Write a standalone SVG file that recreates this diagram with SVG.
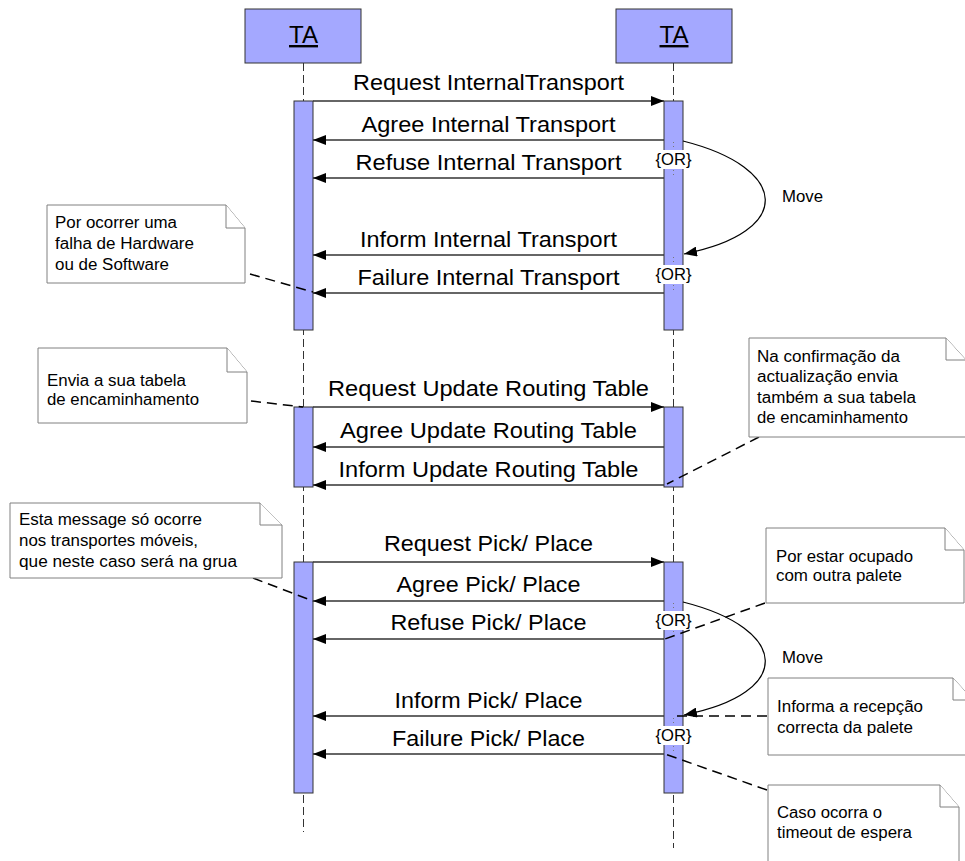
<svg xmlns="http://www.w3.org/2000/svg" width="965" height="861" viewBox="0 0 965 861">
  <style>
    .head { fill: #a4a8ff; stroke: #333; stroke-width: 1; }
    .act { fill: #a4a8ff; stroke: #333; stroke-width: 1; }
    .life { stroke: #333; stroke-width: 1; stroke-dasharray: 8 4; fill: none; }
    .msg { stroke: #333; stroke-width: 1.4; fill: none; }
    .msgtxt { font-family: "Liberation Sans", Arial, sans-serif; font-size: 22px; fill: #000; text-anchor: middle; }
    .headtxt { font-family: "Liberation Sans", Arial, sans-serif; font-size: 24px; fill: #000; text-anchor: middle; text-decoration: underline; }
    .ortxt { font-family: "Liberation Sans", Arial, sans-serif; font-size: 16px; fill: #000; text-anchor: middle; }
    .orbg { fill: #fff; stroke: none; }
    .dots { stroke: #777; stroke-width: 1; stroke-dasharray: 1 3; fill: none; }
    .move { stroke: #000; stroke-width: 1.2; fill: none; }
    .note { fill: #fff; stroke: #808080; stroke-width: 1; }
    .notetxt { font-family: "Liberation Sans", Arial, sans-serif; font-size: 16px; fill: #000; }
    .link { stroke: #000; stroke-width: 1.5; stroke-dasharray: 10 6; fill: none; }
  </style>
  <defs>
    <marker id="arrow" markerUnits="userSpaceOnUse" markerWidth="13" markerHeight="10" refX="13" refY="5" orient="auto">
      <path d="M0,0 L13,5 L0,10 Z" fill="#000"/>
    </marker>
  </defs>

  <rect width="965" height="861" fill="#fff"/>

  <!-- lifelines -->
  <g id="lifelines">
    <line class="life" x1="303.5" y1="63" x2="303.5" y2="832"/>
    <line class="life" x1="673.5" y1="63" x2="673.5" y2="848"/>
  </g>

  <!-- participants -->
  <g id="ta-left">
    <rect class="head" x="245" y="9" width="116" height="54"/>
    <text class="headtxt" x="303.5" y="43" textLength="29" lengthAdjust="spacingAndGlyphs">TA</text>
  </g>
  <g id="ta-right">
    <rect class="head" x="616" y="9" width="116" height="54"/>
    <text class="headtxt" x="674" y="43" textLength="29" lengthAdjust="spacingAndGlyphs">TA</text>
  </g>

  <!-- activation bars -->
  <g id="activations">
    <rect class="act" x="294" y="101" width="19" height="229"/>
    <rect class="act" x="664" y="101" width="19" height="229"/>
    <rect class="act" x="294" y="407" width="19" height="80"/>
    <rect class="act" x="664" y="407" width="19" height="80"/>
    <rect class="act" x="294" y="562" width="19" height="231"/>
    <rect class="act" x="664" y="562" width="19" height="231"/>
  </g>

  <!-- {OR} alternatives -->
  <g id="or-labels">
    <line class="dots" x1="673.5" y1="142" x2="673.5" y2="177"/>
    <rect class="orbg" x="655" y="150" width="37" height="19"/>
    <text class="ortxt" x="673.5" y="165" textLength="36" lengthAdjust="spacingAndGlyphs">{OR}</text>

    <line class="dots" x1="673.5" y1="257" x2="673.5" y2="292"/>
    <rect class="orbg" x="655" y="265" width="37" height="19"/>
    <text class="ortxt" x="673.5" y="280" textLength="36" lengthAdjust="spacingAndGlyphs">{OR}</text>

    <line class="dots" x1="673.5" y1="603" x2="673.5" y2="638"/>
    <rect class="orbg" x="655" y="611" width="37" height="19"/>
    <text class="ortxt" x="673.5" y="626" textLength="36" lengthAdjust="spacingAndGlyphs">{OR}</text>

    <line class="dots" x1="673.5" y1="718" x2="673.5" y2="753"/>
    <rect class="orbg" x="655" y="726" width="37" height="19"/>
    <text class="ortxt" x="673.5" y="741" textLength="36" lengthAdjust="spacingAndGlyphs">{OR}</text>
  </g>

  <!-- messages -->
  <g id="connectors">
    <line class="msg" x1="313" y1="101" x2="664" y2="101" marker-end="url(#arrow)"/>
    <text class="msgtxt" x="488.5" y="90" textLength="271" lengthAdjust="spacingAndGlyphs">Request InternalTransport</text>

    <line class="msg" x1="664" y1="140" x2="313" y2="140" marker-end="url(#arrow)"/>
    <text class="msgtxt" x="488.5" y="132" textLength="254" lengthAdjust="spacingAndGlyphs">Agree Internal Transport</text>

    <line class="msg" x1="664" y1="178" x2="313" y2="178" marker-end="url(#arrow)"/>
    <text class="msgtxt" x="488.5" y="170" textLength="266" lengthAdjust="spacingAndGlyphs">Refuse Internal Transport</text>

    <line class="msg" x1="664" y1="255" x2="313" y2="255" marker-end="url(#arrow)"/>
    <text class="msgtxt" x="488.5" y="247" textLength="257" lengthAdjust="spacingAndGlyphs">Inform Internal Transport</text>

    <line class="msg" x1="664" y1="293" x2="313" y2="293" marker-end="url(#arrow)"/>
    <text class="msgtxt" x="488.5" y="285" textLength="262" lengthAdjust="spacingAndGlyphs">Failure Internal Transport</text>

    <line class="msg" x1="313" y1="407" x2="664" y2="407" marker-end="url(#arrow)"/>
    <text class="msgtxt" x="488.5" y="396" textLength="321" lengthAdjust="spacingAndGlyphs">Request Update Routing Table</text>

    <line class="msg" x1="664" y1="447" x2="313" y2="447" marker-end="url(#arrow)"/>
    <text class="msgtxt" x="488.5" y="438" textLength="297" lengthAdjust="spacingAndGlyphs">Agree Update Routing Table</text>

    <line class="msg" x1="664" y1="485" x2="313" y2="485" marker-end="url(#arrow)"/>
    <text class="msgtxt" x="488.5" y="477" textLength="300" lengthAdjust="spacingAndGlyphs">Inform Update Routing Table</text>

    <line class="msg" x1="313" y1="562" x2="664" y2="562" marker-end="url(#arrow)"/>
    <text class="msgtxt" x="488.5" y="551" textLength="209" lengthAdjust="spacingAndGlyphs">Request Pick/ Place</text>

    <line class="msg" x1="664" y1="601" x2="313" y2="601" marker-end="url(#arrow)"/>
    <text class="msgtxt" x="488.5" y="592" textLength="184" lengthAdjust="spacingAndGlyphs">Agree Pick/ Place</text>

    <line class="msg" x1="664" y1="639" x2="313" y2="639" marker-end="url(#arrow)"/>
    <text class="msgtxt" x="488.5" y="630" textLength="196" lengthAdjust="spacingAndGlyphs">Refuse Pick/ Place</text>

    <line class="msg" x1="664" y1="716" x2="313" y2="716" marker-end="url(#arrow)"/>
    <text class="msgtxt" x="488.5" y="708" textLength="188" lengthAdjust="spacingAndGlyphs">Inform Pick/ Place</text>

    <line class="msg" x1="664" y1="754" x2="313" y2="754" marker-end="url(#arrow)"/>
    <text class="msgtxt" x="488.5" y="746" textLength="193" lengthAdjust="spacingAndGlyphs">Failure Pick/ Place</text>

    <!-- self transitions -->
    <path class="move" d="M683,141 C790,168 795,232 684,254" marker-end="url(#arrow)"/>
    <text class="ortxt" x="802.5" y="202" textLength="41" lengthAdjust="spacingAndGlyphs">Move</text>

    <path class="move" d="M683,602 C790,629 795,693 684,715" marker-end="url(#arrow)"/>
    <text class="ortxt" x="802.5" y="663" textLength="41" lengthAdjust="spacingAndGlyphs">Move</text>

    <!-- note anchors -->
    <line class="link" x1="250" y1="274" x2="313" y2="292"/>
    <line class="link" x1="251" y1="401" x2="303" y2="407"/>
    <line class="link" x1="759" y1="437" x2="667" y2="484"/>
    <line class="link" x1="253" y1="578" x2="313" y2="601"/>
    <line class="link" x1="765" y1="603" x2="665" y2="639"/>
    <line class="link" x1="767" y1="716" x2="673" y2="716"/>
    <line class="link" x1="767" y1="790" x2="665" y2="754"/>
  </g>

  <!-- notes -->
  <g id="note-falha">
    <path class="note" d="M47,205 H226 L245,228 V283 H47 Z"/>
    <path class="note" d="M226,205 V228 H245"/>
    <text class="notetxt" x="55" y="228" textLength="122" lengthAdjust="spacingAndGlyphs">Por ocorrer uma</text>
    <text class="notetxt" x="55" y="249" textLength="139" lengthAdjust="spacingAndGlyphs">falha de Hardware</text>
    <text class="notetxt" x="55" y="270" textLength="114" lengthAdjust="spacingAndGlyphs">ou de Software</text>
  </g>

  <g id="note-tabela">
    <path class="note" d="M38,348 H227 L247,372 V423 H38 Z"/>
    <path class="note" d="M227,348 V372 H247"/>
    <text class="notetxt" x="47" y="386" textLength="139" lengthAdjust="spacingAndGlyphs">Envia a sua tabela</text>
    <text class="notetxt" x="47" y="405" textLength="152" lengthAdjust="spacingAndGlyphs">de encaminhamento</text>
  </g>

  <g id="note-confirmacao">
    <path class="note" d="M749,338 H946 L966,360 V437 H749 Z"/>
    <path class="note" d="M946,338 V360 H966"/>
    <text class="notetxt" x="757" y="362" textLength="143" lengthAdjust="spacingAndGlyphs">Na confirmação da</text>
    <text class="notetxt" x="757" y="382" textLength="141" lengthAdjust="spacingAndGlyphs">actualização envia</text>
    <text class="notetxt" x="757" y="403" textLength="159" lengthAdjust="spacingAndGlyphs">também a sua tabela</text>
    <text class="notetxt" x="757" y="423" textLength="151" lengthAdjust="spacingAndGlyphs">de encaminhamento</text>
  </g>

  <g id="note-grua">
    <path class="note" d="M10,503 H260 L282,525 V578 H10 Z"/>
    <path class="note" d="M260,503 V525 H282"/>
    <text class="notetxt" x="19" y="525" textLength="183" lengthAdjust="spacingAndGlyphs">Esta message só ocorre</text>
    <text class="notetxt" x="19" y="546" textLength="179" lengthAdjust="spacingAndGlyphs">nos transportes móveis,</text>
    <text class="notetxt" x="19" y="567" textLength="218" lengthAdjust="spacingAndGlyphs">que neste caso será na grua</text>
  </g>

  <g id="note-ocupado">
    <path class="note" d="M766,528 H945 L964,550 V603 H766 Z"/>
    <path class="note" d="M945,528 V550 H964"/>
    <text class="notetxt" x="776" y="562" textLength="137" lengthAdjust="spacingAndGlyphs">Por estar ocupado</text>
    <text class="notetxt" x="776" y="581" textLength="126" lengthAdjust="spacingAndGlyphs">com outra palete</text>
  </g>

  <g id="note-recepcao">
    <path class="note" d="M768,678 H953 L973,700 V755 H768 Z"/>
    <path class="note" d="M953,678 V700 H973"/>
    <text class="notetxt" x="777" y="712" textLength="146" lengthAdjust="spacingAndGlyphs">Informa a recepção</text>
    <text class="notetxt" x="777" y="733" textLength="136" lengthAdjust="spacingAndGlyphs">correcta da palete</text>
  </g>

  <g id="note-timeout">
    <path class="note" d="M768,785 H940 L959,807 V870 H768 Z"/>
    <path class="note" d="M940,785 V807 H959"/>
    <text class="notetxt" x="777" y="818" textLength="105" lengthAdjust="spacingAndGlyphs">Caso ocorra o</text>
    <text class="notetxt" x="777" y="838" textLength="135" lengthAdjust="spacingAndGlyphs">timeout de espera</text>
  </g>
</svg>
